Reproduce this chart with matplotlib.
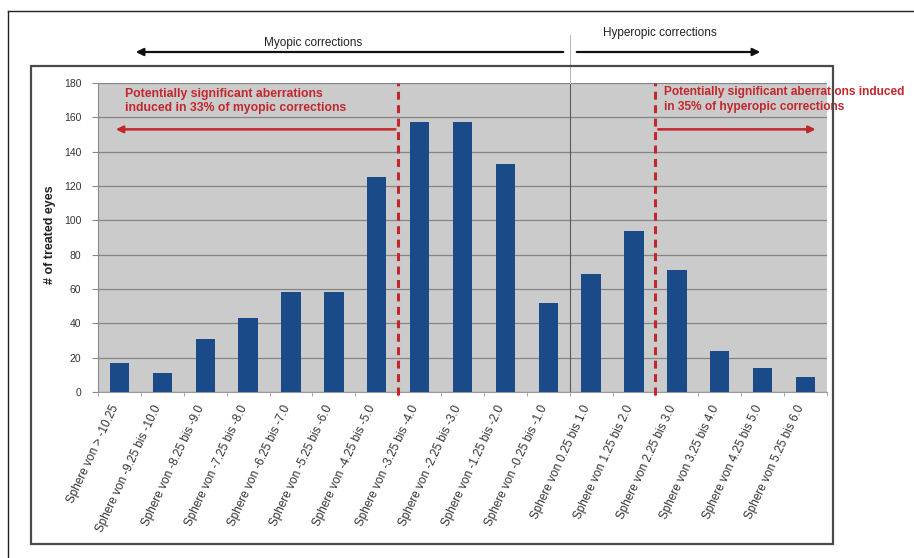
import matplotlib
matplotlib.use("Agg")
import matplotlib.pyplot as plt
from matplotlib.patches import Rectangle, FancyArrowPatch
from matplotlib.lines import Line2D
from matplotlib.transforms import ScaledTranslation

plt.rcParams['font.family'] = ['Liberation Sans', 'DejaVu Sans']

# Treated eyes per sphere range
categories = [
    "Sphere von > -10.25", "Sphere von -9.25 bis -10.0", "Sphere von -8.25 bis -9.0",
    "Sphere von -7.25 bis -8.0", "Sphere von -6.25 bis -7.0", "Sphere von -5.25 bis -6.0",
    "Sphere von -4.25 bis -5.0", "Sphere von -3.25 bis -4.0", "Sphere von -2.25 bis -3.0",
    "Sphere von -1.25 bis -2.0", "Sphere von -0.25 bis -1.0", "Sphere von 0.25 bis 1.0",
    "Sphere von 1.25 bis 2.0", "Sphere von 2.25 bis 3.0", "Sphere von 3.25 bis 4.0",
    "Sphere von 4.25 bis 5.0", "Sphere von 5.25 bis 6.0",
]
eyes = [17, 11, 31, 43, 58, 58, 125, 157, 157, 133, 52, 69, 94, 71, 24, 14, 9]
y_ticks = [0, 20, 40, 60, 80, 100, 120, 140, 160, 180]

# boundaries (in category units) of the highlighted regions
myopic_limit = 6.5
hyperopic_limit = 12.5
sign_change = 10.5

W, H = 914, 558
RED = '#c1272d'
BLUE = '#1a4a88'


def fx(x):
    return x / W


def fy(y):
    return 1 - y / H


fig = plt.figure(figsize=(W / 100, H / 100), dpi=100)
fig.patch.set_facecolor('white')

# outer frame and inner chart box (box drawn on top of the overflowing annotation)
fig.add_artist(Line2D([fx(8), fx(8)], [fy(11), fy(560)], color='#222222', lw=1.0))
fig.add_artist(Line2D([fx(8), fx(916)], [fy(11), fy(11)], color='#222222', lw=1.0))
fig.add_artist(Rectangle((fx(31), fy(544)), fx(833) - fx(31), fy(66) - fy(544),
                         fill=False, edgecolor='#4a4a4a', lw=1.6, zorder=10))

ax = fig.add_axes([fx(98), fy(392), fx(827) - fx(98), fy(83) - fy(392)])
ax.set_facecolor('#cbcbcb')
x = list(range(len(categories)))
ax.bar(x, eyes, width=0.45, color=BLUE, zorder=3)
ax.set_xlim(-0.5, len(categories) - 0.5)
ax.set_ylim(0, 180)
ax.set_yticks(y_ticks)
ax.grid(axis='y', color='#858585', lw=0.9, zorder=1)
ax.set_axisbelow(True)
for s in ['top', 'right']:
    ax.spines[s].set_visible(False)
ax.spines['left'].set_color('#8a8a8a')
ax.spines['bottom'].set_color('#9a9a9a')
ax.tick_params(axis='y', length=4, color='#8a8a8a', pad=8, labelsize=7.5, labelcolor='#333333')
ax.set_xticks(x)
ax.set_xticklabels(categories, rotation=65, ha='right', va='center',
                   rotation_mode='anchor', fontsize=8.5, color='#333333')
ax.tick_params(axis='x', length=0, pad=10)
shift = ScaledTranslation(-4 / 100, 0, fig.dpi_scale_trans)
for lbl in ax.get_xticklabels():
    lbl.set_transform(lbl.get_transform() + shift)
ax.set_xticks([i + 0.5 for i in range(-1, len(categories))], minor=True)
ax.tick_params(axis='x', which='minor', length=3, color='#9a9a9a')

# sign change divider
ax.axvline(sign_change, color='#5a5a5a', lw=0.8, zorder=2)
fig.add_artist(Line2D([fx(570), fx(570)], [fy(35), fy(83)], color='#b8b8b8', lw=0.8))

# thresholds for potentially significant aberrations
for xv in (myopic_limit, hyperopic_limit):
    ax.plot([xv, xv], [-2, 180], color=RED, lw=2.2, ls=(0, (2.6, 1.8)), zorder=4, clip_on=False)

ax.annotate('', xy=(-0.15, 153), xytext=(myopic_limit, 153),
            arrowprops=dict(arrowstyle='-|>', color=RED, lw=1.8, mutation_scale=10), zorder=4)
ax.annotate('', xy=(16.3, 153), xytext=(hyperopic_limit, 153),
            arrowprops=dict(arrowstyle='-|>', color=RED, lw=1.8, mutation_scale=10), zorder=4)

ax.text(0.13, 169.5, 'Potentially significant aberrations\ninduced in 33% of myopic corrections',
        color=RED, fontsize=8.8, weight='bold', ha='left', va='center', linespacing=1.12, zorder=5)
ax.text(12.69, 170.3, 'Potentially significant aberrations induced\nin 35% of hyperopic corrections',
        color=RED, fontsize=8.6, weight='bold', ha='left', va='center', linespacing=1.38,
        zorder=5, clip_on=False)

# correction direction arrows
fig.add_artist(FancyArrowPatch(
    (fx(566), fy(52)), (fx(133), fy(52)), transform=fig.transFigure,
    arrowstyle='-|>', mutation_scale=11, color='#111111', lw=1.6))
fig.add_artist(FancyArrowPatch(
    (fx(574), fy(52)), (fx(763), fy(52)), transform=fig.transFigure,
    arrowstyle='-|>', mutation_scale=11, color='#111111', lw=1.6))
fig.text(fx(313), fy(43), 'Myopic corrections', fontsize=8.5, ha='center', va='center', color='#222222')
fig.text(fx(660), fy(33), 'Hyperopic corrections', fontsize=8.5, ha='center', va='center', color='#222222')

fig.text(fx(50), fy(235), '# of treated eyes', rotation=90, fontsize=9, weight='bold',
         ha='center', va='center', color='#222222')

fig.savefig('out.png', dpi=100)
